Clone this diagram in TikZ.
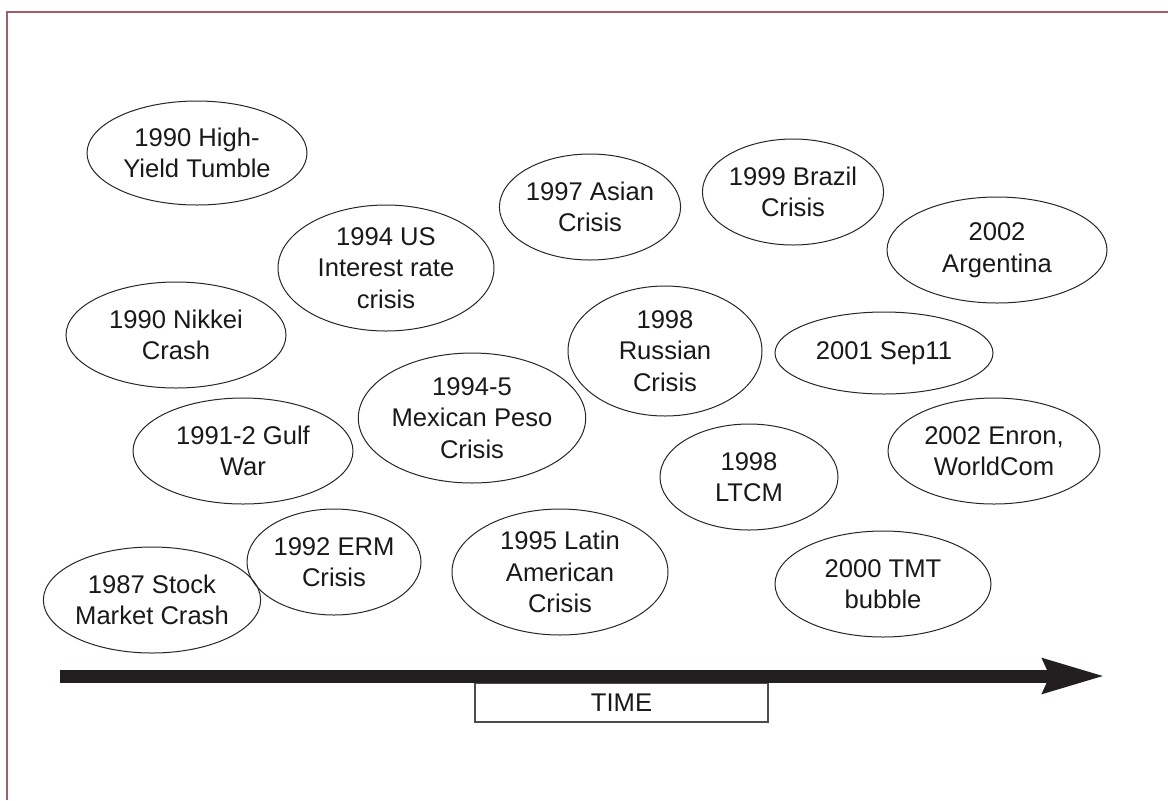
\documentclass[tikz,border=0pt]{standalone}
\usepackage{fontspec}
\setmainfont{Liberation Sans}
\usepackage{xcolor}
\usepackage{tikz}
\usetikzlibrary{arrows.meta,shapes.geometric}
\definecolor{framered}{RGB}{160,94,102}
\definecolor{arrowblack}{RGB}{35,31,32}

\begin{document}
\begin{tikzpicture}[x=0.5pt,y=-0.5pt,
  crisis/.style={draw=black!85, ellipse, inner sep=0pt, line width=0.5pt, align=center, text=black!90, font=\fontsize{12.8}{15.8}\selectfont},
  timebox/.style={draw=black!70, line width=0.6pt, minimum width=146.5pt, minimum height=19.5pt, inner sep=0pt, text=black!90, font=\fontsize{12.8}{15.8}\selectfont},
  timearrow/.style={-{Stealth[length=30.5pt, width=16.5pt, inset=3pt]}, line width=6.5pt, draw=arrowblack, fill=arrowblack}
]
\useasboundingbox (0,0) rectangle (1168,800);
\draw[framered, line width=1pt] (7,800) -- (7,12) -- (1168,12);

\node[crisis, minimum width=110pt, minimum height=52pt] (hiyield) at (197,153) {1990 High-\\Yield Tumble};
\node[crisis, minimum width=110pt, minimum height=53pt] (nikkei) at (176,335) {1990 Nikkei\\Crash};
\node[crisis, minimum width=110pt, minimum height=53pt] (gulf) at (243,451) {1991-2 Gulf\\War};
\node[crisis, minimum width=108pt, minimum height=53pt] (stock) at (152,600) {1987 Stock\\Market Crash};
\node[crisis, minimum width=87pt, minimum height=53pt] (erm) at (334,562) {1992 ERM\\Crisis};
\node[crisis, minimum width=108pt, minimum height=63pt] (usrate) at (386,268) {1994 US\\Interest rate\\crisis};
\node[crisis, minimum width=109pt, minimum height=65pt] (peso) at (472,418) {1994-5\\Mexican Peso\\Crisis};
\node[crisis, minimum width=108pt, minimum height=63pt] (latam) at (560,572) {1995 Latin\\American\\Crisis};
\node[crisis, minimum width=88pt, minimum height=53pt] (asian) at (590,207) {1997 Asian\\Crisis};
\node[crisis, minimum width=97pt, minimum height=65pt] (russia) at (665,351) {1998\\Russian\\Crisis};
\node[crisis, minimum width=89pt, minimum height=53pt] (ltcm) at (749,477) {1998\\LTCM};
\node[crisis, minimum width=89pt, minimum height=53pt] (brazil) at (793,192) {1999 Brazil\\Crisis};
\node[crisis, minimum width=109pt, minimum height=41pt] (sepelf) at (884,353) {2001 Sep11};
\node[crisis, minimum width=110pt, minimum height=53pt] (argentina) at (997,250) {2002\\Argentina};
\node[crisis, minimum width=106pt, minimum height=53pt] (enron) at (994,451) {2002 Enron,\\WorldCom};
\node[crisis, minimum width=108pt, minimum height=53pt] (tmt) at (883,584) {2000 TMT\\bubble};

\node[timebox] (time) at (621.5,702.5) {TIME};
\coordinate (tstart) at (60,676);
\coordinate (tend) at (1105,676);
\draw[timearrow] (tstart) -- (tend);
\end{tikzpicture}
\end{document}
